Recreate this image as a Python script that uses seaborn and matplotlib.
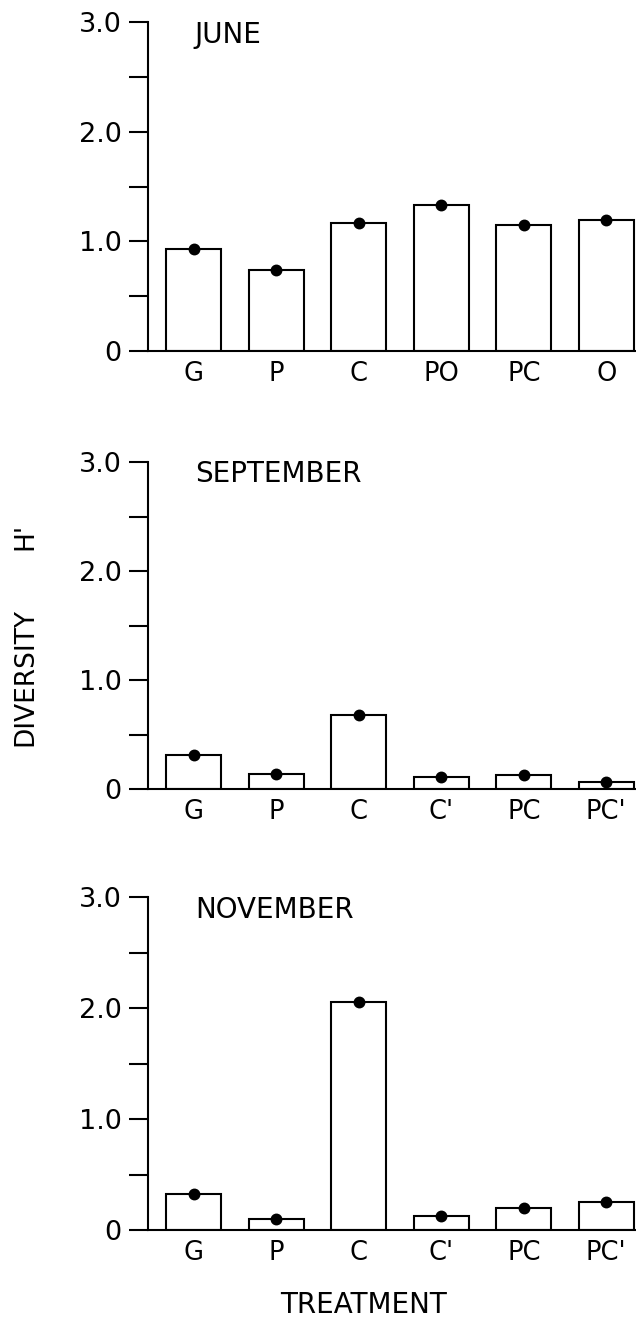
import matplotlib
matplotlib.use("Agg")
import matplotlib.pyplot as plt
import seaborn as sns

# Shannon diversity H' per treatment, for each sampling month
june_treatments = ["G", "P", "C", "PO", "PC", "O"]
june_values = [0.93, 0.74, 1.17, 1.33, 1.15, 1.19]

september_treatments = ["G", "P", "C", "C'", "PC", "PC'"]
september_values = [0.31, 0.14, 0.68, 0.11, 0.13, 0.06]

november_treatments = ["G", "P", "C", "C'", "PC", "PC'"]
november_values = [0.32, 0.10, 2.05, 0.13, 0.20, 0.25]

month_names = ["JUNE", "SEPTEMBER", "NOVEMBER"]
y_major = [0, 1, 2, 3]
y_major_labels = ["0", "1.0", "2.0", "3.0"]
y_minor = [0.5, 1.5, 2.5]

sns.set_theme(style="ticks")
plt.rcParams["font.family"] = ["DejaVu Sans"]
plt.rcParams["axes.linewidth"] = 1.5

W, H = 636, 1321
fig = plt.figure(figsize=(W / 100, H / 100), dpi=100)

# panel frames in pixels: (top at 3.0, bottom at 0)
frames = [(22, 351), (462, 789), (897, 1230)]
left_px, right_px = 148, 636

panels = [
    (june_treatments, june_values),
    (september_treatments, september_values),
    (november_treatments, november_values),
]

for (top, bottom), (cats, vals), name in zip(frames, panels, month_names):
    ax = fig.add_axes([left_px / W, 1 - bottom / H,
                       (right_px - left_px) / W, (bottom - top) / H])
    sns.barplot(x=cats, y=vals, ax=ax, width=0.667, color="white",
                edgecolor="black", linewidth=1.5, saturation=1)
    sns.pointplot(x=cats, y=vals, ax=ax, color="black", linestyle="none",
                  marker="o", markersize=6.5, errorbar=None)
    ax.set_xlim(-0.557, 5.36)
    ax.set_ylim(0, 3)
    ax.set_yticks(y_major)
    ax.set_yticklabels(y_major_labels)
    ax.set_yticks(y_minor, minor=True)
    ax.tick_params(axis="y", which="both", direction="out", length=14,
                   width=1.5, color="black", labelsize=19.5, pad=5)
    ax.tick_params(axis="x", length=0, labelsize=18.5, pad=7)
    for lab in ax.get_xticklabels() + ax.get_yticklabels():
        lab.set_color("black")
    sns.despine(ax=ax)
    ax.spines["left"].set_color("black")
    ax.spines["bottom"].set_color("black")
    ax.set_xlabel("")
    ax.set_ylabel("")
    ax.text(0.096, 0.962, name, transform=ax.transAxes, ha="left",
            va="center", fontsize=20, color="black")

# vertical axis title, drawn in two pieces with the wide gap between them
fig.text(25 / W, 1 - 677 / H, "DIVERSITY", rotation=90,
         ha="center", va="center", fontsize=19, color="black")
fig.text(25 / W, 1 - 536 / H, "H'", rotation=90,
         ha="center", va="center", fontsize=19, color="black")
fig.text(364 / W, 1 - 1305 / H, "TREATMENT", ha="center", va="center",
         fontsize=20, color="black")

fig.savefig("out.png", dpi=100, facecolor="white")
